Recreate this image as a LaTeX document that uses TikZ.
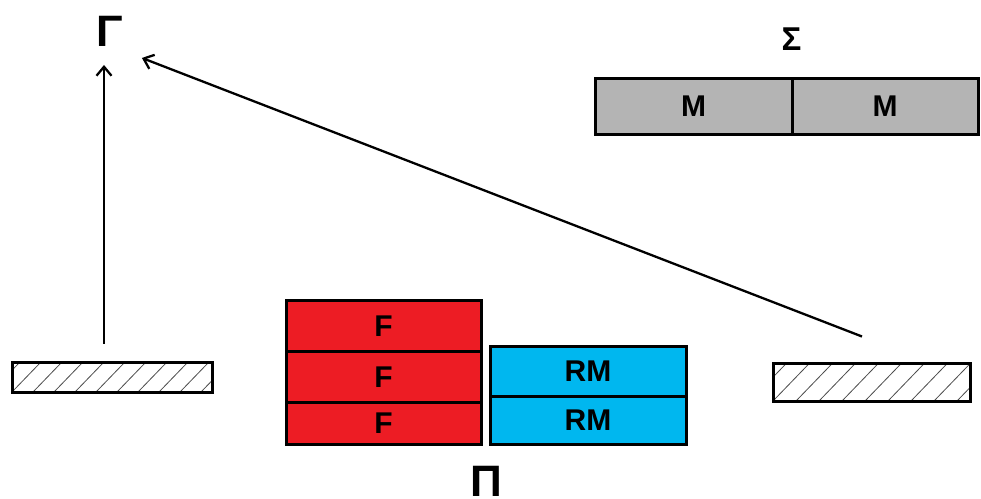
\documentclass[tikz,border=0pt]{standalone}
\usepackage{fontspec}
\setmainfont{Liberation Sans}
\usetikzlibrary{arrows.meta}
\definecolor{pred}{HTML}{ED1C24}
\definecolor{pblue}{HTML}{00B7EF}
\definecolor{pgray}{HTML}{B4B4B4}
\begin{document}
\begin{tikzpicture}[x=1pt,y=-1pt,
  blk/.style={draw=black, line width=3pt, inner sep=0pt,
    font=\fontsize{30}{30}\selectfont\bfseries, text height=21.5pt, text depth=0pt},
  redbox/.style={blk, fill=pred, minimum width=195pt},
  bluebox/.style={blk, fill=pblue, minimum width=196pt},
  graybox/.style={blk, fill=pgray, minimum height=56pt},
  greek/.style={inner sep=0pt, font=\fontsize{#1}{#1}\selectfont\bfseries,
    text height=0.716*#1pt, text depth=0pt},
  hatchbox/.style={draw=black, line width=3pt, fill=white, inner sep=0pt,
    path picture={\foreach \k in {-3,...,12}{
      \draw[line width=0.8pt, black!70]
        ([xshift=\k*#1pt]path picture bounding box.south west) -- ++(46:70pt);}}},
  arr/.style={line width=2.3pt, -{Straight Barb[length=9pt,width=15pt]}}
]
\useasboundingbox (0,0) rectangle (981,498);

% stacked boxes
\node[redbox, minimum height=51pt] (f1) at (383.5,325.5) {F};
\node[redbox, minimum height=51pt] (f2) at (383.5,376.5) {F};
\node[redbox, minimum height=42pt] (f3) at (383.5,423) {F};
\node[bluebox, minimum height=50pt] (rm1) at (588,371) {RM};
\node[bluebox, minimum height=48pt] (rm2) at (588,420) {RM};

% gray bar
\node[graybox, minimum width=197pt] (m1) at (693.5,106) {M};
\node[graybox, minimum width=186pt] (m2) at (885,106) {M};

% hatched boxes
\node[hatchbox=21, minimum width=200pt, minimum height=30pt] (lh) at (112,377) {};
\node[hatchbox=23, minimum width=197pt, minimum height=38pt] (rh) at (871.5,382) {};

% greek labels
\node[greek=44] (gamma) at (109.5,31) {Γ};
\node[greek=33] (sigma) at (791.5,38.5) {Σ};
\node[greek=44] (pi) at (486,481) {Π};

% arrows
\draw[arr] ([xshift=-8pt,yshift=17pt]lh.north) -- ([xshift=-5.5pt,yshift=-18pt]gamma.south);
\draw[arr] ([xshift=-9.5pt,yshift=25pt]rh.north) -- ([xshift=19pt,yshift=-11pt]gamma.south east);
\end{tikzpicture}
\end{document}
